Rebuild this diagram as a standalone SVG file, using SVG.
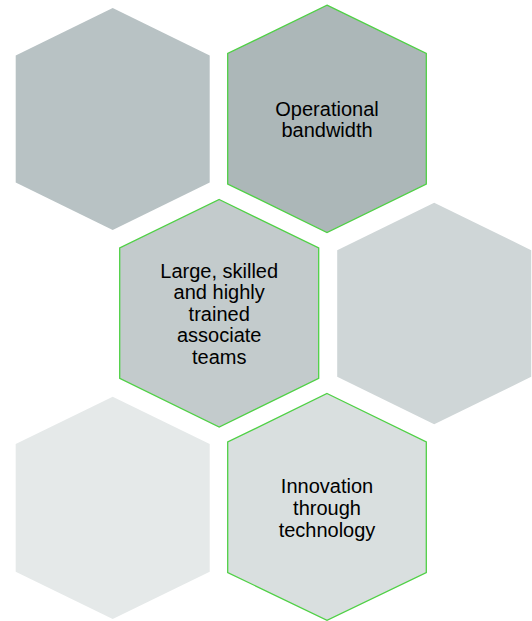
<svg xmlns="http://www.w3.org/2000/svg" width="532" height="621" viewBox="0 0 532 621">
  <style>
    .hex-plain { stroke: none; }
    .hex-key { stroke: #4fd045; stroke-width: 1.3; }
    .label { font-family: "Liberation Sans", Arial, sans-serif; font-size: 20px; fill: #000000; text-anchor: middle; }
  </style>
  <rect width="532" height="621" fill="#ffffff"/>

  <!-- Row 1 -->
  <g id="hex-top-left">
    <polygon class="hex-plain" fill="#b8c2c4" points="112.7,8 209.7,55.5 209.7,182.5 112.7,230 15.7,182.5 15.7,55.5"/>
  </g>
  <g id="hex-operational-bandwidth">
    <polygon class="hex-key" fill="#acb7b8" points="327,5.2 426.3,53.5 426.3,184 327,232.5 227.7,184 227.7,53.5"/>
    <text class="label" x="327" y="115.5">Operational</text>
    <text class="label" x="327" y="137">bandwidth</text>
  </g>

  <!-- Row 2 -->
  <g id="hex-associate-teams">
    <polygon class="hex-key" fill="#c3cbcc" points="219.2,199.5 318.7,248 318.7,378.3 219.2,427 119.7,378.3 119.7,248"/>
    <text class="label" x="219.2" y="277.5">Large, skilled</text>
    <text class="label" x="219.2" y="299">and highly</text>
    <text class="label" x="219.2" y="320.5">trained</text>
    <text class="label" x="219.2" y="342">associate</text>
    <text class="label" x="219.2" y="363.5">teams</text>
  </g>
  <g id="hex-middle-right">
    <polygon class="hex-plain" fill="#cfd6d7" points="434.2,202.7 531.2,250.2 531.2,376.8 434.2,424.3 337.2,376.8 337.2,250.2"/>
  </g>

  <!-- Row 3 -->
  <g id="hex-bottom-left">
    <polygon class="hex-plain" fill="#e5e9e9" points="112.7,396.7 209.7,444 209.7,571.7 112.7,619 15.7,571.7 15.7,444"/>
  </g>
  <g id="hex-innovation-technology">
    <polygon class="hex-key" fill="#d9dfdf" points="327,393.5 426.3,442 426.3,572.5 327,620.3 227.7,572.5 227.7,442"/>
    <text class="label" x="327" y="493">Innovation</text>
    <text class="label" x="327" y="514.8">through</text>
    <text class="label" x="327" y="536.5">technology</text>
  </g>

  <!-- No connectors in this layout -->
  <g id="connectors"/>
</svg>
